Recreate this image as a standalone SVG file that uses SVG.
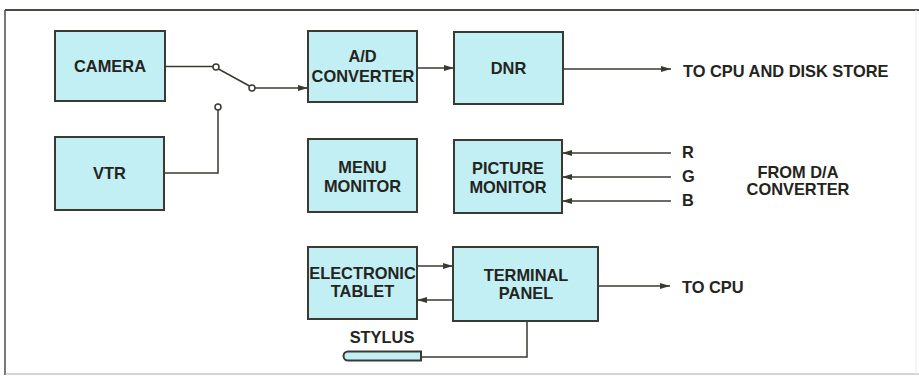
<svg xmlns="http://www.w3.org/2000/svg" width="919" height="377" viewBox="0 0 919 377">
<defs>
<style>
.box{fill:#c2eff4;stroke:#3a3a32;stroke-width:2}
.t{font-family:"Liberation Sans",Arial,sans-serif;font-weight:bold;font-size:16.4px;fill:#24241d;text-anchor:middle}
.tl{font-family:"Liberation Sans",Arial,sans-serif;font-weight:bold;font-size:16.4px;fill:#24241d;text-anchor:start}
.w{fill:none;stroke:#3a3a32;stroke-width:1.5}
.a{fill:none;stroke:#3a3a32;stroke-width:1.5;marker-end:url(#ah)}
.sw{fill:#fff;stroke:#3a3a32;stroke-width:1.5}
</style>
<marker id="ah" viewBox="0 0 10 8" refX="10" refY="4" markerWidth="10" markerHeight="8" markerUnits="userSpaceOnUse" orient="auto">
<path d="M0,1 L10,4 L0,7 Z" fill="#3a3a32"/>
</marker>
</defs>
<rect width="919" height="377" fill="#fff"/>
<g id="frame">
<line x1="5" y1="10" x2="919" y2="10" stroke="#4a4a44" stroke-width="2"/>
<line x1="5" y1="10" x2="5" y2="375" stroke="#4a4a44" stroke-width="1.5"/>
<line x1="5" y1="374" x2="919" y2="374" stroke="#aaa" stroke-width="1.2"/>
<line x1="916" y1="10" x2="916" y2="374" stroke="#ececec" stroke-width="1"/>
</g>
<g id="connectors">
<path class="w" d="M165,66.5 H213"/>
<path class="w" d="M218.5,69 L249.5,86"/>
<path class="a" d="M255,88 H308"/>
<path class="w" d="M164,173 H218 V110"/>
<circle class="sw" cx="216" cy="67" r="3"/>
<circle class="sw" cx="252" cy="88" r="3"/>
<circle class="sw" cx="218" cy="107" r="3"/>
<path class="a" d="M417,68 H454"/>
<path class="a" d="M563,69 H671"/>
<path class="a" d="M671,153 H562"/>
<path class="a" d="M671,177 H562"/>
<path class="a" d="M671,201 H562"/>
<path class="a" d="M417,266 H453"/>
<path class="a" d="M453,300 H417"/>
<path class="a" d="M598,286 H670"/>
<path class="w" d="M421,357 H527 V321"/>
</g>
<g id="camera"><rect class="box" x="55" y="31" width="110" height="70"/><text class="t" x="110" y="72">CAMERA</text></g>
<g id="vtr"><rect class="box" x="55" y="137" width="109" height="73"/><text class="t" x="109.5" y="179">VTR</text></g>
<g id="ad"><rect class="box" x="308" y="31" width="109" height="71"/><text class="t" x="362.5" y="62">A/D</text><text class="t" x="363" y="82">CONVERTER</text></g>
<g id="dnr"><rect class="box" x="454" y="32" width="109" height="72"/><text class="t" x="508.5" y="74">DNR</text></g>
<g id="menu"><rect class="box" x="308" y="139" width="109" height="73"/><text class="t" x="362.5" y="173">MENU</text><text class="t" x="362.5" y="192">MONITOR</text></g>
<g id="picture"><rect class="box" x="454" y="140" width="108" height="73"/><text class="t" x="508" y="174">PICTURE</text><text class="t" x="508" y="193">MONITOR</text></g>
<g id="tablet"><rect class="box" x="308" y="247" width="109" height="72"/><text class="t" x="362.5" y="279">ELECTRONIC</text><text class="t" x="362.5" y="297">TABLET</text></g>
<g id="terminal"><rect class="box" x="453" y="247" width="145" height="74"/><text class="t" x="526" y="281">TERMINAL</text><text class="t" x="526" y="299">PANEL</text></g>
<g id="stylus"><path d="M421,351.5 H348 A4.5,4.5 0 0 0 348,360.5 H421 Z" fill="#c2eff4" stroke="#3a3a32" stroke-width="2"/><text class="t" x="382" y="343">STYLUS</text></g>
<g id="labels">
<text class="tl" x="683" y="77">TO CPU AND DISK STORE</text>
<text class="tl" x="682" y="158">R</text>
<text class="tl" x="682" y="182">G</text>
<text class="tl" x="682" y="206">B</text>
<text class="t" x="798" y="178">FROM D/A</text>
<text class="t" x="798" y="195">CONVERTER</text>
<text class="tl" x="682" y="293">TO CPU</text>
</g>
</svg>
